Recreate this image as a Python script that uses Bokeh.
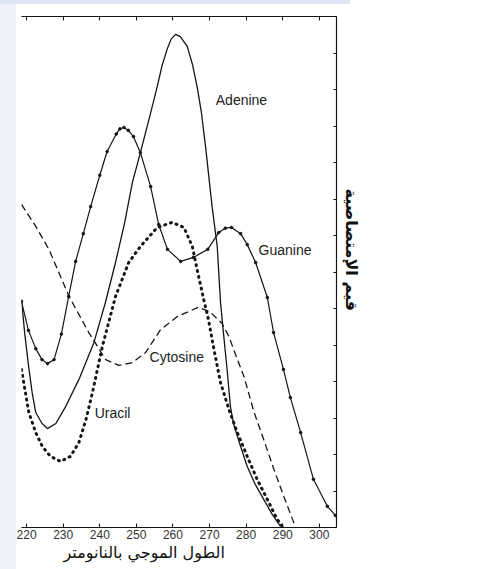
from bokeh.plotting import figure
from bokeh.models import Range1d, LinearAxis, FixedTicker, Label, Title, Spacer
from bokeh.layouts import column, row
from bokeh.embed import file_html
from bokeh.resources import INLINE

# ---- data (wavelength nm, relative absorbance) ----
guanine_nm = [218.6, 220.5, 222.5, 224.2, 225.7, 227.5, 229.5, 231.5, 233.4, 235.5, 237.5, 240.0, 242.0,
              244.5, 245.5, 246.6, 247.8, 249.2, 251.1, 253.9, 256.1, 258.5, 262.1, 265.6, 269.5, 272.5,
              274.3, 276.0, 278.5, 280.3, 282.6, 285.8, 287.5, 290.2, 292.1, 294.9, 298.4, 302.2, 304.4]
guanine_abs = [6.19, 5.40, 4.90, 4.60, 4.49, 4.60, 5.30, 6.33, 7.29, 8.05, 8.79, 9.65, 10.30,
               10.78, 10.92, 10.96, 10.88, 10.71, 10.27, 9.34, 8.30, 7.62, 7.29, 7.40, 7.62, 8.08,
               8.20, 8.22, 8.05, 7.75, 7.26, 6.30, 5.34, 4.33, 3.56, 2.60, 1.32, 0.58, 0.33]

adenine_nm = [218.6, 219.5, 220.5, 221.5, 222.5, 224.2, 225.7, 228.0, 230.7, 234.5, 238.4, 241.5, 244.3,
              246.8, 248.9, 251.1, 253.5, 255.7, 257.0, 258.4, 259.5, 260.7, 262.0, 263.9, 265.3, 266.6,
              267.8, 268.9, 270.7, 272.1, 273.0, 273.9, 274.8, 275.7, 276.6, 278.5, 280.3, 282.5, 284.8,
              287.0, 289.4]
adenine_abs = [6.25, 5.30, 4.45, 3.70, 3.15, 2.85, 2.71, 2.85, 3.32, 4.10, 5.07, 6.15, 7.26,
               8.35, 9.45, 10.27, 11.20, 12.08, 12.65, 13.10, 13.38, 13.51, 13.45, 13.18, 12.70, 12.08,
               11.35, 10.44, 8.79, 7.70, 6.16, 5.23, 4.33, 3.32, 2.82, 2.22, 1.67, 1.18, 0.77,
               0.38, 0.03]

uracil_nm = [218.6, 220.6, 222.5, 224.3, 226.5, 229.3, 232.0, 234.3, 236.2, 238.0, 240.7, 244.3, 247.9,
             251.1, 255.7, 259.8, 263.0, 265.3, 266.6, 268.4, 269.7, 271.2, 273.0, 275.3, 277.6,
             280.3, 283.0, 285.8, 288.5, 289.9]
uracil_abs = [4.33, 3.15, 2.60, 2.22, 1.95, 1.81, 1.95, 2.33, 2.95, 3.70, 4.96, 6.33, 7.26,
              7.70, 8.22, 8.36, 8.22, 7.70, 7.07, 6.25, 5.70, 4.88, 3.97, 3.23, 2.60,
              1.95, 1.32, 0.77, 0.22, 0.03]

cytosine_nm = [218.6, 222.5, 226.1, 231.6, 237.0, 241.6, 245.2, 248.9, 252.5, 256.6, 261.2, 266.9, 270.0,
               273.4, 275.3, 277.1, 279.4, 282.1, 284.8, 287.6, 290.3, 293.0, 293.5]
cytosine_abs = [8.85, 8.25, 7.62, 6.33, 5.34, 4.60, 4.44, 4.52, 4.79, 5.42, 5.78, 6.03, 5.92,
                5.59, 5.23, 4.74, 4.14, 3.18, 2.41, 1.59, 0.85, 0.14, 0.03]

x_ticks = [220, 230, 240, 250, 260, 270, 280, 290, 300]
y_ticks = list(range(0, 15))

names = ["Adenine", "Guanine", "Cytosine", "Uracil"]
name_x = [271.7, 283.4, 253.6, 238.6]
name_y = [11.70, 7.59, 4.66, 3.15]

x_title = "الطول الموجي بالنانومتر"
y_title = "قيم الإمتصاصية"

ink = "#151515"

p = figure(width=476, height=565, output_backend="svg", toolbar_location=None,
           x_range=Range1d(218.6, 304.7), y_range=Range1d(0, 14),
           x_axis_location="below", y_axis_location="right",
           min_border_left=5, min_border_top=12, min_border_right=156, min_border_bottom=42)
p.outline_line_color = None
p.grid.visible = False
p.background_fill_color = "white"
p.border_fill_color = "white"

# bottom axis
xa = p.xaxis[0]
xa.ticker = FixedTicker(ticks=x_ticks)
xa.major_tick_in = 4
xa.major_tick_out = 0
xa.minor_tick_line_color = None
xa.axis_line_color = ink
xa.major_tick_line_color = ink
xa.axis_line_width = 1.2
xa.major_label_text_font = "Liberation Sans"
xa.major_label_text_font_size = "12px"
xa.major_label_text_color = "#333333"
xa.major_label_standoff = 2

# right axis (ticks only)
ya = p.yaxis[0]
ya.ticker = FixedTicker(ticks=y_ticks)
ya.major_tick_in = 3
ya.major_tick_out = 0
ya.minor_tick_line_color = None
ya.axis_line_color = ink
ya.major_tick_line_color = ink
ya.axis_line_width = 1.2
ya.major_label_text_font_size = "1px"
ya.major_label_text_color = None
ya.major_label_standoff = 0

# top axis (ticks only)
ta = LinearAxis(ticker=FixedTicker(ticks=x_ticks))
ta.major_tick_in = 4
ta.major_tick_out = 0
ta.minor_tick_line_color = None
ta.axis_line_color = ink
ta.major_tick_line_color = ink
ta.axis_line_width = 1.2
ta.major_label_text_font_size = "1px"
ta.major_label_text_color = None
ta.major_label_standoff = 0
p.add_layout(ta, "above")

# curves
p.line(adenine_nm, adenine_abs, line_color=ink, line_width=1.3)
p.line(guanine_nm, guanine_abs, line_color=ink, line_width=1.2)
p.scatter(guanine_nm, guanine_abs, size=2.6, color=ink)
p.line(cytosine_nm, cytosine_abs, line_color=ink, line_width=1.3, line_dash="7 4")
p.line(uracil_nm, uracil_abs, line_color=ink, line_width=3, line_dash="1 5", line_cap="round")

for n, lx, ly in zip(names, name_x, name_y):
    p.add_layout(Label(x=lx, y=ly, text=n, text_font="Liberation Sans", text_font_size="14px",
                       text_color="#222222", text_baseline="middle", text_align="left"))

# axis titles
p.add_layout(Title(text=x_title, align="left", offset=42, standoff=0, vertical_align="middle",
                   text_font="DejaVu Sans", text_font_size="16px", text_font_style="normal",
                   text_color="#111111"), "below")
p.add_layout(Title(text=y_title, align="left", offset=172, standoff=8, vertical_align="middle",
                   text_font="DejaVu Sans", text_font_size="16px", text_font_style="bold",
                   text_color="#111111"), "right")

# light page chrome around the scanned figure
top_band = Spacer(width=350, height=4, styles={"background-color": "#dde7f3"})
left_strip = Spacer(width=16, height=565, styles={"background-color": "#eef2f8"})
layout = column(top_band, row(left_strip, p, spacing=0), spacing=0)

open("out.html", "w").write(file_html(layout, INLINE))
